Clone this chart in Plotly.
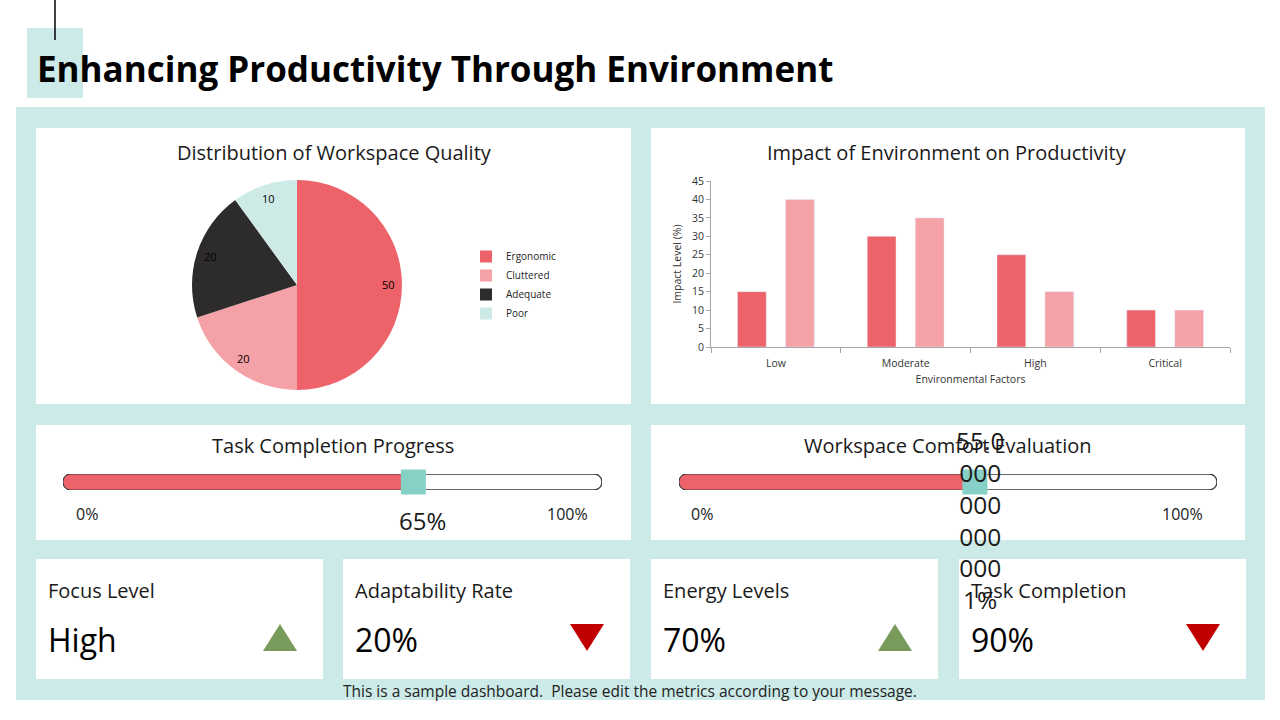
import math
import plotly.graph_objects as go

W, H = 1280, 720


def px(x):
    return x / W


def py(y):
    return 1 - y / H


# ---------------- data ----------------
quality_labels = ["Ergonomic", "Cluttered", "Adequate", "Poor"]
quality_values = [50, 20, 20, 10]
quality_colors = ["#EE626A", "#F4A1A7", "#2E2B2C", "#CDEAE6"]

factor_categories = ["Low", "Moderate", "High", "Critical"]
impact_series_a = [15, 30, 25, 10]
impact_series_b = [40, 35, 15, 10]

task_completion_pct = 65
task_completion_label = "65%"
comfort_pct = 55
comfort_label_lines = ["55.0", "000", "000", "000", "000", "1%"]

kpi_titles = ["Focus Level", "Adaptability Rate", "Energy Levels", "Task Completion"]
kpi_values = ["High", "20%", "70%", "90%"]
kpi_trends = ["up", "down", "up", "down"]

# ---------------- style ----------------
FONT = "Open Sans"
TEAL_BG = "#CCEAE7"
TEAL_MARK = "#87D0C6"
RED = "#EE626A"
PINK = "#F4A1A7"
TXT = "#1a1a1a"

fig = go.Figure()
shapes = []
annotations = []


def rect(x0, y0, x1, y1, color):
    shapes.append(dict(type="rect", xref="paper", yref="paper",
                       x0=px(x0), x1=px(x1), y0=py(y1), y1=py(y0),
                       fillcolor=color, line=dict(width=0), layer="below"))


def text(x, y, s, size, xanchor="center", yanchor="middle", color=TXT, **kw):
    annotations.append(dict(x=px(x), y=py(y), xref="paper", yref="paper", text=s,
                            showarrow=False, xanchor=xanchor, yanchor=yanchor,
                            font=dict(family=FONT, size=size, color=color), **kw))


# backgrounds
rect(27, 28, 83, 98, TEAL_BG)
shapes.append(dict(type="line", xref="paper", yref="paper", x0=px(55), x1=px(55),
                   y0=py(0), y1=py(40), line=dict(color="black", width=1.5)))
rect(16, 107, 1265, 700, TEAL_BG)
rect(36, 128, 631, 404, "white")
rect(651, 128, 1245, 404, "white")
rect(36, 425, 631, 540, "white")
rect(651, 425, 1245, 540, "white")
card_x = [36, 343, 651, 959]
for cx in card_x:
    rect(cx, 559, cx + 287, 679, "white")

# title
text(35, 68, "<b>Enhancing Productivity Through Environment</b>", 35, xanchor="left", color="black")

# ---------------- pie ----------------
cx_p, cy_p, R = 297, 285, 105
fig.add_trace(go.Pie(labels=quality_labels, values=quality_values, sort=False,
                     direction="clockwise", rotation=0, textinfo="none",
                     hoverinfo="label+value",
                     marker=dict(colors=quality_colors, line=dict(width=0)),
                     domain=dict(x=[px(cx_p - R), px(cx_p + R)], y=[py(cy_p + R), py(cy_p - R)]),
                     showlegend=True))
total = sum(quality_values)
acc = 0
for v in quality_values:
    mid = (acc + v / 2) / total * 2 * math.pi
    acc += v
    tx = cx_p + 0.87 * R * math.sin(mid)
    ty = cy_p - 0.87 * R * math.cos(mid)
    text(tx, ty, str(v), 11, color="#000000")
text(334, 152, "Distribution of Workspace Quality", 20)

# ---------------- bar ----------------
fig.add_trace(go.Bar(x=factor_categories, y=impact_series_a, name="Series 1",
                     marker_color=RED, showlegend=False, xaxis="x", yaxis="y"))
fig.add_trace(go.Bar(x=factor_categories, y=impact_series_b, name="Series 2",
                     marker_color=PINK, showlegend=False, xaxis="x", yaxis="y"))
text(947, 152, "Impact of Environment on Productivity", 20)

# ---------------- progress bars ----------------
def progress(axis_n, track_x0, track_x1, value):
    xa, ya = f"x{axis_n}", f"y{axis_n}"
    rx = 8 / (track_x1 - track_x0) * 100
    k = 0.5523

    def capsule(x0, x1, round_right=True):
        p = f"M {x0 + rx},0 "
        if round_right:
            p += (f"L {x1 - rx},0 C {x1 - rx + k * rx},0 {x1},{0.5 - k * 0.5} {x1},0.5 "
                  f"C {x1},{0.5 + k * 0.5} {x1 - rx + k * rx},1 {x1 - rx},1 ")
        else:
            p += f"L {x1},0 L {x1},1 "
        p += (f"L {x0 + rx},1 C {x0 + rx - k * rx},1 {x0},{0.5 + k * 0.5} {x0},0.5 "
              f"C {x0},{0.5 - k * 0.5} {x0 + rx - k * rx},0 {x0 + rx},0 Z")
        return p

    shapes.append(dict(type="path", xref=xa, yref=ya, path=capsule(0, 100),
                       fillcolor="white", line=dict(color="#3a3a3a", width=1.3), layer="below"))
    shapes.append(dict(type="path", xref=xa, yref=ya, path=capsule(0, value, round_right=False),
                       fillcolor=RED, line=dict(color="#3a3a3a", width=1.0), layer="below"))
    fig.add_trace(go.Scatter(x=[value], y=[0.5], xaxis=xa, yaxis=ya, mode="markers",
                             marker=dict(symbol="square", size=25, color=TEAL_MARK,
                                         line=dict(width=0)),
                             cliponaxis=False, showlegend=False, hoverinfo="skip"))


progress(2, 63, 602, task_completion_pct)
progress(3, 679, 1217, comfort_pct)

text(333, 445, "Task Completion Progress", 20)
text(948, 445, "Workspace Comfort Evaluation", 20)
text(87, 514, "0%", 16)
text(567, 514, "100%", 16)
text(702, 514, "0%", 16)
text(1182, 514, "100%", 16)
annotations.append(dict(x=task_completion_pct, xref="x2", y=py(520), yref="paper",
                        text=task_completion_label, showarrow=False, xshift=9,
                        xanchor="center", yanchor="middle",
                        font=dict(family=FONT, size=24, color=TXT)))
annotations.append(dict(x=comfort_pct, xref="x3", y=py(520), yref="paper",
                        text="<br>".join(comfort_label_lines), showarrow=False, xshift=5,
                        xanchor="center", yanchor="middle",
                        font=dict(family=FONT, size=24.5, color=TXT)))

# ---------------- KPI cards ----------------
for cx, t, v, tr in zip(card_x, kpi_titles, kpi_values, kpi_trends):
    text(cx + 10, 590, t, 20, xanchor="left")
    text(cx + 10, 639, v, 32, xanchor="left", color="black")
    tcx = cx + 244
    if tr == "up":
        path = f"M {px(tcx - 17)},{py(651)} L {px(tcx + 17)},{py(651)} L {px(tcx)},{py(624)} Z"
        col = "#789A5B"
    else:
        path = f"M {px(tcx - 17)},{py(624)} L {px(tcx + 17)},{py(624)} L {px(tcx)},{py(651)} Z"
        col = "#C00000"
    shapes.append(dict(type="path", xref="paper", yref="paper", path=path,
                       fillcolor=col, line=dict(width=0)))

text(630, 691, "This is a sample dashboard.  Please edit the metrics according to your message.", 15.5,
     color="#222222")

axis_hidden = dict(visible=False, showgrid=False, zeroline=False, fixedrange=True)
tick_font = dict(family=FONT, size=10.5, color="#333333")

fig.update_layout(
    width=W, height=H, margin=dict(l=0, r=0, t=0, b=0, pad=0, autoexpand=False),
    paper_bgcolor="white", plot_bgcolor="rgba(0,0,0,0)",
    font=dict(family=FONT, color=TXT),
    shapes=shapes, annotations=annotations,
    barmode="group", bargap=0.26, bargroupgap=0.4,
    legend=dict(x=px(466), y=py(242), xanchor="left", yanchor="top",
                font=dict(family=FONT, size=10, color="#262626"),
                bgcolor="rgba(0,0,0,0)"),
    xaxis=dict(domain=[px(711), px(1230)], anchor="y", showline=True, linecolor="#a6a6a6",
               ticks="outside", tickson="boundaries", ticklen=5, tickcolor="#a6a6a6",
               tickfont=tick_font, showgrid=False, automargin=False, ticklabelstandoff=6,
               title=dict(text="Environmental Factors", font=tick_font, standoff=7)),
    yaxis=dict(domain=[py(347), py(181)], anchor="x", range=[0, 45], dtick=5,
               showline=True, linecolor="#a6a6a6", ticks="outside", ticklen=4,
               tickcolor="#a6a6a6", tickfont=tick_font, automargin=False,
               showgrid=False, zeroline=False,
               title=dict(text="Impact Level (%)", font=tick_font, standoff=8)),
    xaxis2=dict(domain=[px(63), px(602)], range=[0, 100], anchor="y2", **axis_hidden),
    yaxis2=dict(domain=[py(490), py(474)], range=[0, 1], anchor="x2", **axis_hidden),
    xaxis3=dict(domain=[px(679), px(1217)], range=[0, 100], anchor="y3", **axis_hidden),
    yaxis3=dict(domain=[py(490), py(474)], range=[0, 1], anchor="x3", **axis_hidden),
)

fig.write_html("out.html")
